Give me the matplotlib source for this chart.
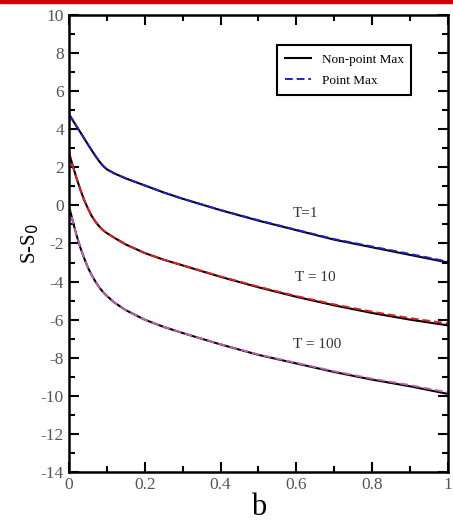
import numpy as np
import matplotlib.pyplot as plt
from matplotlib.ticker import MultipleLocator, FuncFormatter
from matplotlib.patches import Rectangle

# entropy difference vs b, for three temperatures
b = [0.0, 0.01, 0.02, 0.03, 0.04, 0.05, 0.06, 0.07, 0.08, 0.09, 0.1, 0.12,
     0.15, 0.2, 0.25, 0.3, 0.4, 0.5, 0.6, 0.7, 0.8, 0.9, 1.0]

nonpoint_T1 = [4.8, 4.48, 4.16, 3.85, 3.53, 3.21, 2.9, 2.6, 2.32, 2.08, 1.9, 1.68,
               1.42, 1.05, 0.68, 0.35, -0.25, -0.8, -1.3, -1.8, -2.2, -2.6, -3.0]
nonpoint_T10 = [2.8, 2.1, 1.45, 0.85, 0.3, -0.15, -0.55, -0.85, -1.1, -1.3, -1.45, -1.7,
                -2.05, -2.5, -2.85, -3.15, -3.75, -4.3, -4.8, -5.25, -5.65, -6.0, -6.3]
nonpoint_T100 = [0.0, -0.8, -1.55, -2.2, -2.75, -3.25, -3.65, -4.0, -4.3, -4.55, -4.75, -5.1,
                 -5.5, -6.0, -6.38, -6.7, -7.3, -7.85, -8.3, -8.75, -9.15, -9.5, -9.9]

point_T1 = [4.8, 4.48, 4.16, 3.85, 3.53, 3.21, 2.9, 2.6, 2.32, 2.08, 1.9, 1.68,
            1.42, 1.05, 0.68, 0.35, -0.24, -0.78, -1.28, -1.77, -2.16, -2.55, -2.95]
point_T10 = [2.8, 2.1, 1.45, 0.85, 0.3, -0.15, -0.55, -0.85, -1.1, -1.3, -1.45, -1.7,
             -2.05, -2.5, -2.85, -3.14, -3.73, -4.27, -4.76, -5.2, -5.58, -5.92, -6.2]
point_T100 = [0.0, -0.8, -1.55, -2.2, -2.75, -3.25, -3.65, -4.0, -4.3, -4.55, -4.75, -5.1,
              -5.5, -6.0, -6.38, -6.7, -7.29, -7.83, -8.27, -8.71, -9.1, -9.44, -9.82]

labels = ['T=1', 'T = 10', 'T = 100']
label_pos = [(0.625, -0.4), (0.65, -3.8), (0.655, -7.3)]
colors = ['#1f1fd0', '#e02020', '#c060b0']

plt.rcParams['font.family'] = ['Liberation Serif', 'DejaVu Serif']
plt.rcParams['axes.unicode_minus'] = False

fig = plt.figure(figsize=(4.53, 5.32), dpi=100)
ax = fig.add_axes([0.152, 0.1128, 0.837, 0.859])

for i, (np_, p_, c) in enumerate(zip([nonpoint_T1, nonpoint_T10, nonpoint_T100],
                                      [point_T1, point_T10, point_T100], colors)):
    ax.plot(b, np_, color='black', lw=1.5,
            label='Non-point Max' if i == 0 else None)
    ax.plot(b, p_, color=c, lw=1.4, ls=(0, (4, 2)),
            label='Point Max' if i == 0 else None)

for txt, (x, y) in zip(labels, label_pos):
    ax.text(x, y, txt, fontsize=11, ha='center', va='center', color='#333333')

ax.set_xlim(0, 1)
ax.set_ylim(-14, 10)
ax.xaxis.set_major_locator(MultipleLocator(0.2))
ax.xaxis.set_minor_locator(MultipleLocator(0.1))
ax.yaxis.set_major_locator(MultipleLocator(2))
ax.yaxis.set_minor_locator(MultipleLocator(1))
ax.xaxis.set_major_formatter(FuncFormatter(lambda v, p: f'{v:g}'))
ax.tick_params(which='both', direction='in', top=True, right=True,
               width=1.5, labelsize=12.5, labelcolor='#555555')
ax.tick_params(which='major', length=7)
ax.tick_params(which='minor', length=4)
for s in ax.spines.values():
    s.set_linewidth(1.8)

ax.set_xlabel('b', fontsize=22, labelpad=0)
ax.set_ylabel(r'S-S$_0$', fontsize=15, labelpad=0)

leg = ax.legend(loc='upper right', bbox_to_anchor=(0.921, 0.948), fontsize=9.5,
                fancybox=False, edgecolor='black', framealpha=1,
                handlelength=2.0, borderpad=0.6, labelspacing=0.7)
leg.get_frame().set_linewidth(1.5)

# red bar along the top edge
fig.patches.append(Rectangle((0, 0.994), 1, 0.006, transform=fig.transFigure,
                             color='#cc0000', zorder=10))

fig.savefig('out.png', dpi=100)
